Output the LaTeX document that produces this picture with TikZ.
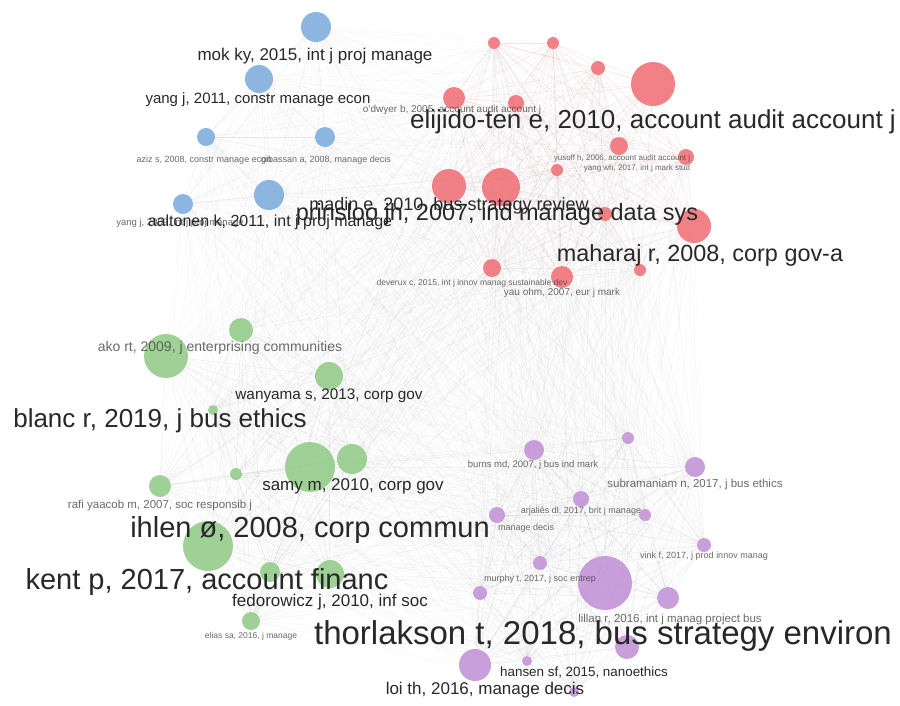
\documentclass[tikz,border=0pt]{standalone}
\usepackage{fontspec}
\setmainfont{Liberation Sans}
\usetikzlibrary{backgrounds}
\definecolor{cblue}{RGB}{112,163,215}
\definecolor{cred}{RGB}{238,98,104}
\definecolor{cgreen}{RGB}{136,198,124}
\definecolor{cpurple}{RGB}{188,136,210}
\definecolor{txt}{RGB}{40,40,40}
\definecolor{txtlight}{RGB}{70,70,70}
\tikzset{
  dot/.style={circle, inner sep=0pt, minimum size=#1, draw=none, fill opacity=0.8},
  blu/.style={fill=cblue},
  rd/.style={fill=cred},
  grn/.style={fill=cgreen},
  pur/.style={fill=cpurple},
  lbl/.style={font=\fontsize{#1}{#1}\selectfont, inner sep=0pt, text=txt},
  tiny/.style={font=\fontsize{#1}{#1}\selectfont, inner sep=0pt, text=txtlight, text opacity=0.8},
  edge/.style={draw=black!45, line width=0.3pt, opacity=0.075},
  redge/.style={draw=cred, line width=0.3pt, opacity=0.14},
  gedge/.style={draw=cgreen!80!black, line width=0.3pt, opacity=0.1},
  bedge/.style={draw=cblue!70!black, line width=0.3pt, opacity=0.08},
  pedge/.style={draw=cpurple!80!black, line width=0.3pt, opacity=0.1},
}
\begin{document}
\begin{tikzpicture}[x=1pt,y=-1pt]
\useasboundingbox (0,0) rectangle (900,705);

% ---- blue cluster ----
\node[dot=30,blu] (B1) at (316,27) {};
\node[dot=28,blu] (B2) at (259,79) {};
\node[dot=18,blu] (B3) at (206,137) {};
\node[dot=20,blu] (B4) at (325,137) {};
\node[dot=20,blu] (B5) at (183,204) {};
\node[dot=30,blu] (B6) at (269,195) {};

% ---- red cluster ----
\node[dot=12,rd] (R1) at (494,43) {};
\node[dot=12,rd] (R2) at (553,43) {};
\node[dot=14,rd] (R3) at (598,68) {};
\node[dot=44,rd] (R4) at (653,84) {};
\node[dot=22,rd] (R5) at (454,98) {};
\node[dot=16,rd] (R6) at (516,103) {};
\node[dot=18,rd] (R7) at (619,146) {};
\node[dot=16,rd] (R8) at (686,157) {};
\node[dot=12,rd] (R9) at (557,170) {};
\node[dot=34,rd] (R10) at (449,186) {};
\node[dot=38,rd] (R11) at (501,187) {};
\node[dot=14,rd] (R12) at (605,214) {};
\node[dot=34,rd] (R13) at (694,226) {};
\node[dot=18,rd] (R14) at (492,268) {};
\node[dot=22,rd] (R15) at (562,277) {};
\node[dot=12,rd] (R16) at (640,270) {};

% ---- green cluster ----
\node[dot=24,grn] (G1) at (241,330) {};
\node[dot=44,grn] (G2) at (166,356) {};
\node[dot=28,grn] (G3) at (329,376) {};
\node[dot=10,grn] (G4) at (213,410) {};
\node[dot=30,grn] (G5) at (352,459) {};
\node[dot=12,grn] (G6) at (236,474) {};
\node[dot=22,grn] (G7) at (160,486) {};
\node[dot=50,grn] (G8) at (310,467) {};
\node[dot=50,grn] (G9) at (208,546) {};
\node[dot=20,grn] (G10) at (270,572) {};
\node[dot=28,grn] (G11) at (330,574) {};
\node[dot=18,grn] (G12) at (251,621) {};

% ---- purple cluster ----
\node[dot=12,pur] (P1) at (628,438) {};
\node[dot=20,pur] (P2) at (534,450) {};
\node[dot=20,pur] (P3) at (695,467) {};
\node[dot=16,pur] (P4) at (581,499) {};
\node[dot=16,pur] (P5) at (497,515) {};
\node[dot=12,pur] (P6) at (645,515) {};
\node[dot=14,pur] (P7) at (704,545) {};
\node[dot=14,pur] (P8) at (540,563) {};
\node[dot=54,pur] (P9) at (605,583) {};
\node[dot=14,pur] (P10) at (480,593) {};
\node[dot=22,pur] (P11) at (668,598) {};
\node[dot=24,pur] (P12) at (627,647) {};
\node[dot=32,pur] (P13) at (475,665) {};
\node[dot=10,pur] (P14) at (527,661) {};
\node[dot=10,pur] (P15) at (574,692) {};

% ---- links, behind the circles ----
\def\allnodes{B1,B2,B3,B4,B5,B6,R1,R2,R3,R4,R5,R6,R7,R8,R9,R10,R11,R12,R13,R14,R15,R16,G1,G2,G3,G4,G5,G6,G7,G8,G9,G10,G11,G12,P1,P2,P3,P4,P5,P6,P7,P8,P9,P10,P11,P12,P13,P14,P15}
\def\rednodes{R1,R2,R3,R4,R5,R6,R7,R8,R9,R10,R11,R12,R13,R14,R15,R16}
\def\greennodes{G1,G2,G3,G4,G5,G6,G7,G8,G9,G10,G11,G12}
\def\bluenodes{B1,B2,B3,B4,B5,B6}
\def\purplenodes{P1,P2,P3,P4,P5,P6,P7,P8,P9,P10,P11,P12,P13,P14,P15}
\begin{scope}[on background layer]
  \fill[white] (0,0) rectangle (900,705);
  \foreach \a [count=\i] in \allnodes {
    \foreach \b [count=\j] in \allnodes {
      \ifnum\j>\i \draw[edge] (\a) -- (\b); \fi
    }
  }
  \foreach \a [count=\i] in \rednodes {
    \foreach \b [count=\j] in \rednodes {
      \ifnum\j>\i \draw[redge] (\a) -- (\b); \fi
    }
  }
  \foreach \a [count=\i] in \greennodes {
    \foreach \b [count=\j] in \greennodes {
      \ifnum\j>\i \draw[gedge] (\a) -- (\b); \fi
    }
  }
  \foreach \a [count=\i] in \bluenodes {
    \foreach \b [count=\j] in \bluenodes {
      \ifnum\j>\i \draw[bedge] (\a) -- (\b); \fi
    }
  }
  \foreach \a [count=\i] in \purplenodes {
    \foreach \b [count=\j] in \purplenodes {
      \ifnum\j>\i \draw[pedge] (\a) -- (\b); \fi
    }
  }
\end{scope}

% ---- labels: blue ----
\node[lbl=17] (lB1) at (315,56) {mok ky, 2015, int j proj manage};
\node[lbl=15] (lB2) at (258,100) {yang j, 2011, constr manage econ};
\node[tiny=9] (lB3) at (204,160) {aziz s, 2008, constr manage econ};
\node[tiny=9] (lB4) at (326,160) {gibassan a, 2008, manage decis};
\node[tiny=9.5] (lB5) at (180,223) {yang j, 2009, int j proj manage};
\node[lbl=16] (lB6) at (270,222) {aaltonen k, 2011, int j proj manage};

% ---- labels: red ----
\node[tiny=10] (lR5) at (452,110) {o'dwyer b, 2005, account audit account j};
\node[lbl=26] (lR4) at (653,122) {elijido-ten e, 2010, account audit account j};
\node[tiny=8] (lR7) at (622,158) {yusoff h, 2006, account audit account j};
\node[tiny=8] (lR8) at (637,168) {yang wh, 2017, int j mark stud};
\node[lbl=18] (lR10) at (449,206) {madin e, 2010, bus strategy review};
\node[lbl=23.5] (lR11) at (497,214) {prinsloo jh, 2007, ind manage data sys};
\node[lbl=23.4] (lR13) at (700,255) {maharaj r, 2008, corp gov-a};
\node[tiny=8.5] (lR14) at (472,283) {deverux c, 2015, int j innov manag sustainable dev};
\node[tiny=10] (lR15) at (562,293) {yau ohm, 2007, eur j mark};

% ---- labels: green ----
\node[tiny=14] (lG1) at (220,348) {ako rt, 2009, j enterprising communities};
\node[lbl=15.3] (lG3) at (329,396) {wanyama s, 2013, corp gov};
\node[lbl=26] (lG2) at (160,421) {blanc r, 2019, j bus ethics};
\node[lbl=17] (lG5) at (353,486) {samy m, 2010, corp gov};
\node[tiny=11.5] (lG7) at (160,506) {rafi yaacob m, 2007, soc responsib j};
\node[lbl=29] (lG8) at (310,530) {ihlen ø, 2008, corp commun};
\node[lbl=29] (lG9) at (207,582) {kent p, 2017, account financ};
\node[lbl=17] (lG11) at (330,602) {fedorowicz j, 2010, inf soc};
\node[tiny=8.5] (lG12) at (251,636) {elias sa, 2016, j manage};

% ---- labels: purple ----
\node[tiny=9.5] (lP2) at (533,465) {burns md, 2007, j bus ind mark};
\node[tiny=11.5] (lP3) at (695,485) {subramaniam n, 2017, j bus ethics};
\node[tiny=9] (lP4) at (581,511) {arjaliès dl, 2017, brit j manage};
\node[tiny=9, anchor=west] (lP5) at (498,528) {manage decis};
\node[tiny=9] (lP7) at (704,556) {vink f, 2017, j prod innov manag};
\node[tiny=9] (lP8) at (540,579) {murphy t, 2017, j soc entrep};
\node[tiny=11.5] (lP11) at (670,620) {lillan r, 2016, int j manag project bus};
\node[lbl=33] (lP9) at (603,636) {thorlakson t, 2018, bus strategy environ};
\node[lbl=13.4] (lP14) at (584,672) {hansen sf, 2015, nanoethics};
\node[lbl=17] (lP13) at (485,690) {loi th, 2016, manage decis};
\end{tikzpicture}
\end{document}
